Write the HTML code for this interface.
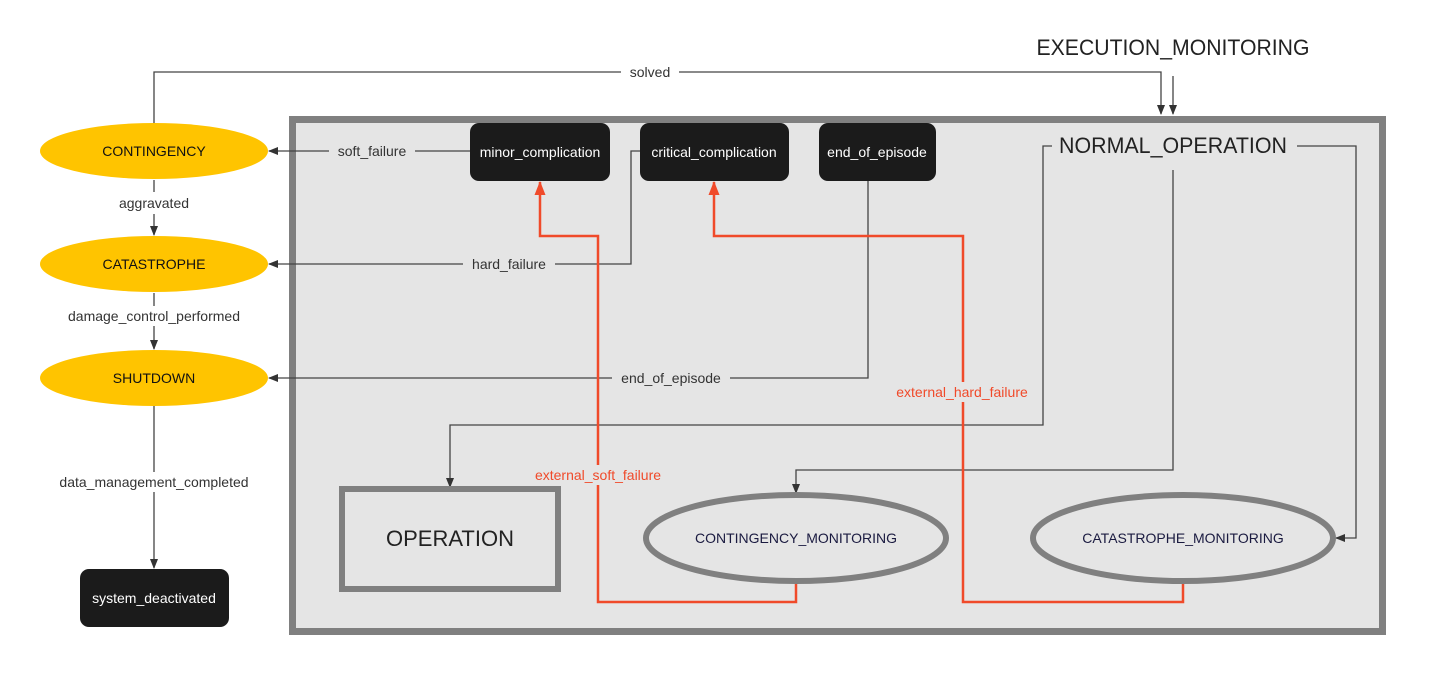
<!DOCTYPE html>
<html><head><meta charset="utf-8"><style>
html,body{margin:0;padding:0;background:#fff;}
svg{display:block;font-family:"Liberation Sans",sans-serif;}
</style></head><body>
<svg width="1442" height="693" viewBox="0 0 1442 693" xmlns="http://www.w3.org/2000/svg">
<defs>
<marker id="ab" markerWidth="10" markerHeight="10" refX="9" refY="5" orient="auto" markerUnits="userSpaceOnUse"><path d="M0,1 L10,5 L0,9 Z" fill="#333"/></marker>
<marker id="ar" markerWidth="14" markerHeight="14" refX="13" refY="7" orient="auto" markerUnits="userSpaceOnUse"><path d="M0,1.5 L14,7 L0,12.5 Z" fill="#f04a2a"/></marker>
</defs>
<rect x="292.5" y="119.5" width="1090" height="512" fill="#e5e5e5" stroke="#808080" stroke-width="7"/>

<!-- connectors black -->
<g fill="none" stroke="#444" stroke-width="1.3">
<path d="M154,123 V72 H1161 V114" marker-end="url(#ab)"/>
<path d="M1173,76 V114" marker-end="url(#ab)"/>
<path d="M470,151 H269" marker-end="url(#ab)"/>
<path d="M154,180 V235" marker-end="url(#ab)"/>
<path d="M640,151 H631 V264 H269" marker-end="url(#ab)"/>
<path d="M154,293 V349" marker-end="url(#ab)"/>
<path d="M868,181 V378 H269" marker-end="url(#ab)"/>
<path d="M154,406 V568" marker-end="url(#ab)"/>
<path d="M1058,146 H1043 V425 H450 V487" marker-end="url(#ab)"/>
<path d="M1173,170 V470 H796 V493" marker-end="url(#ab)"/>
<path d="M1297,146 H1356 V538 H1336" marker-end="url(#ab)"/>
</g>
<!-- red connectors -->
<g fill="none" stroke="#f04a2a" stroke-width="2.5">
<path d="M796,582 V602 H598 V236 H540 V182" marker-end="url(#ar)"/>
<path d="M1183,582 V602 H963 V236 H714 V182" marker-end="url(#ar)"/>
</g>

<!-- label backgrounds -->
<rect x="621" y="62" width="58" height="20" fill="#fff"/>
<rect x="329" y="141" width="86" height="20" fill="#e5e5e5"/>
<rect x="110" y="192" width="88" height="22" fill="#fff"/>
<rect x="463" y="254" width="92" height="20" fill="#e5e5e5"/>
<rect x="54" y="306" width="200" height="20" fill="#fff"/>
<rect x="612" y="368" width="118" height="20" fill="#e5e5e5"/>
<rect x="886" y="382" width="152" height="20" fill="#e5e5e5"/>
<rect x="524" y="465" width="148" height="20" fill="#e5e5e5"/>
<rect x="44" y="472" width="220" height="20" fill="#fff"/>
<rect x="1052" y="128" width="242" height="36" fill="#e5e5e5"/>

<g font-size="14" fill="#333" text-anchor="middle">
<text x="650" y="77">solved</text>
<text x="372" y="156">soft_failure</text>
<text x="154" y="208">aggravated</text>
<text x="509" y="269">hard_failure</text>
<text x="154" y="321">damage_control_performed</text>
<text x="671" y="383">end_of_episode</text>
<text x="154" y="487">data_management_completed</text>
</g>
<g font-size="14" fill="#f04a2a" text-anchor="middle">
<text x="962" y="397">external_hard_failure</text>
<text x="598" y="480">external_soft_failure</text>
</g>

<text x="1173" y="55" font-size="22" fill="#222" text-anchor="middle" textLength="273" lengthAdjust="spacingAndGlyphs">EXECUTION_MONITORING</text>
<text x="1173" y="153" font-size="22" fill="#222" text-anchor="middle" textLength="228" lengthAdjust="spacingAndGlyphs">NORMAL_OPERATION</text>

<!-- yellow ellipses -->
<g fill="#ffc400">
<ellipse cx="154" cy="151" rx="114" ry="28"/>
<ellipse cx="154" cy="264" rx="114" ry="28"/>
<ellipse cx="154" cy="378" rx="114" ry="28"/>
</g>
<g font-size="14" fill="#111" text-anchor="middle">
<text x="154" y="156">CONTINGENCY</text>
<text x="154" y="269">CATASTROPHE</text>
<text x="154" y="383">SHUTDOWN</text>
</g>

<!-- black boxes -->
<g fill="#1b1b1b">
<rect x="470" y="123" width="140" height="58" rx="9"/>
<rect x="640" y="123" width="149" height="58" rx="9"/>
<rect x="819" y="123" width="117" height="58" rx="9"/>
<rect x="80" y="569" width="149" height="58" rx="9"/>
</g>
<g font-size="14" fill="#fff" text-anchor="middle">
<text x="540" y="157">minor_complication</text>
<text x="714" y="157">critical_complication</text>
<text x="877" y="157">end_of_episode</text>
<text x="154" y="603">system_deactivated</text>
</g>

<!-- OPERATION -->
<rect x="342" y="489" width="216" height="100" fill="#e5e5e5" stroke="#808080" stroke-width="6"/>
<text x="450" y="546" font-size="22" fill="#222" text-anchor="middle">OPERATION</text>

<ellipse cx="796" cy="538" rx="150" ry="43" fill="#e5e5e5" stroke="#808080" stroke-width="6"/>
<ellipse cx="1183" cy="538" rx="150" ry="43" fill="#e5e5e5" stroke="#808080" stroke-width="6"/>
<g font-size="14" fill="#1a1a40" text-anchor="middle">
<text x="796" y="543">CONTINGENCY_MONITORING</text>
<text x="1183" y="543">CATASTROPHE_MONITORING</text>
</g>
</svg>
</body></html>
